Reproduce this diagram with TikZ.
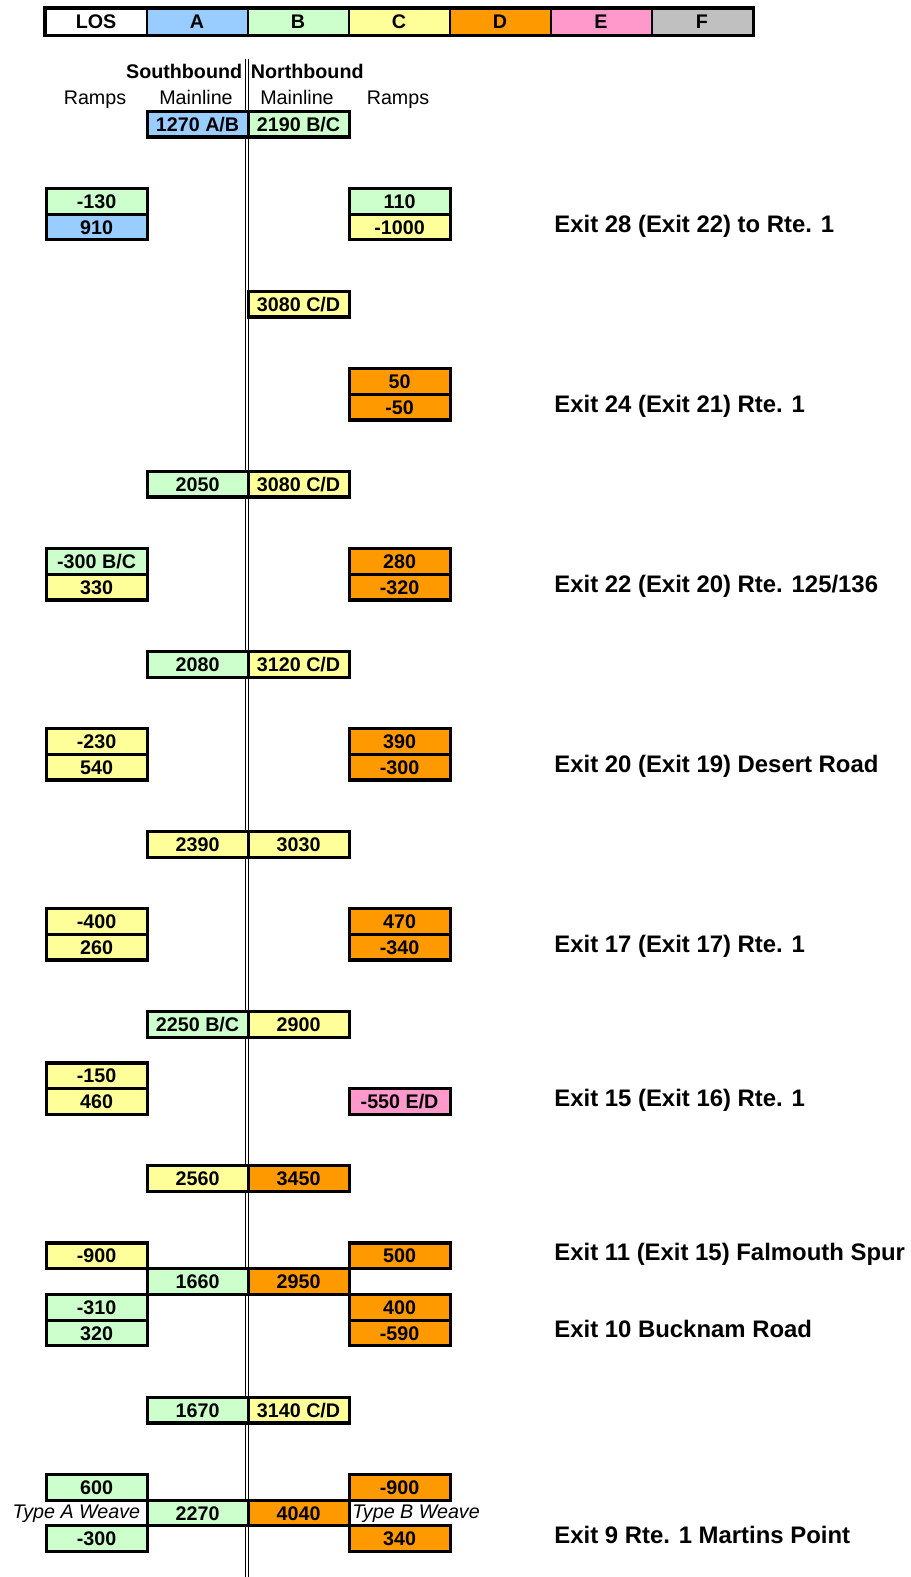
\documentclass[tikz,border=0pt]{standalone}
\usepackage{fontspec}
\setmainfont{Liberation Sans}
\definecolor{losA}{HTML}{99CCFF}
\definecolor{losB}{HTML}{CCFFCC}
\definecolor{losC}{HTML}{FFFF99}
\definecolor{losD}{HTML}{FF9900}
\definecolor{losE}{HTML}{FF99CC}
\definecolor{losF}{HTML}{C0C0C0}
\newcommand\tcell[5]{\node[cellsty,fill=#3] (#5) at ({44.5+101*#1},{6.8+25.72*#2}) {#4};}
\newcommand\lcell[4]{\node[legsty,fill=#2] (#4) at ({44.5+101*#1},8) {#3};}
\begin{document}
\begin{tikzpicture}[x=0.5pt,y=-0.5pt,
  cellsty/.style={draw=black,line width=1.6pt,minimum width=50.5pt,minimum height=12.86pt,
    inner sep=0pt,text height=7.1pt,text depth=0pt,font=\fontsize{9.85}{11}\selectfont\bfseries,anchor=north west},
  legsty/.style={draw=black,line width=1pt,minimum width=50.5pt,minimum height=12.86pt,
    inner sep=0pt,text height=7.1pt,text depth=0pt,font=\fontsize{9.85}{11}\selectfont\bfseries,anchor=north west},
  hdr/.style={inner sep=0pt,text height=7.1pt,text depth=0pt,font=\fontsize{9.85}{11}\selectfont},
  hdrb/.style={hdr,font=\fontsize{9.85}{11}\selectfont\bfseries},
  exitlbl/.style={inner sep=0pt,anchor=west,text height=8.6pt,text depth=0pt,font=\fontsize{11.95}{14}\selectfont\bfseries},
  weave/.style={inner sep=0pt,text height=7.1pt,text depth=0pt,font=\fontsize{9.85}{11}\selectfont\itshape}]
\useasboundingbox (0,0) rectangle (910,1577);
% centre divider
\coordinate (dlt) at (247,59.4);
\coordinate (dlb) at (247,1577);
\draw[line width=0.5pt,double=white,double distance=1.25pt] (dlt) -- (dlb);
% legend
\lcell{0}{white}{LOS}{lg0}
\lcell{1}{losA}{A}{lg1}
\lcell{2}{losB}{B}{lg2}
\lcell{3}{losC}{C}{lg3}
\lcell{4}{losD}{D}{lg4}
\lcell{5}{losE}{E}{lg5}
\lcell{6}{losF}{F}{lg6}
\draw[line width=1.6pt] (lg0.north west) rectangle (lg6.south east);
% headers
\node[hdrb,anchor=east] (hsb) at (242.5,71.5) {Southbound};
\node[hdrb,anchor=west] (hnb) at (250.5,71.5) {Northbound};
\node[hdr] (hr1) at (95,97) {Ramps};
\node[hdr] (hm1) at (196,97) {Mainline};
\node[hdr] (hm2) at (297,97) {Mainline};
\node[hdr] (hr2) at (398,97) {Ramps};
% cells
\tcell{1}{4}{losA}{1270 A/B}{m4s}
\tcell{2}{4}{losB}{2190 B/C}{m4n}
\tcell{0}{7}{losB}{-130}{r7s}
\tcell{3}{7}{losB}{110}{r7n}
\tcell{0}{8}{losA}{910}{r8s}
\tcell{3}{8}{losC}{-1000}{r8n}
\tcell{2}{11}{losC}{3080 C/D}{m11n}
\tcell{3}{14}{losD}{50}{r14n}
\tcell{3}{15}{losD}{-50}{r15n}
\tcell{1}{18}{losB}{2050}{m18s}
\tcell{2}{18}{losC}{3080 C/D}{m18n}
\tcell{0}{21}{losB}{-300 B/C}{r21s}
\tcell{3}{21}{losD}{280}{r21n}
\tcell{0}{22}{losC}{330}{r22s}
\tcell{3}{22}{losD}{-320}{r22n}
\tcell{1}{25}{losB}{2080}{m25s}
\tcell{2}{25}{losC}{3120 C/D}{m25n}
\tcell{0}{28}{losC}{-230}{r28s}
\tcell{3}{28}{losD}{390}{r28n}
\tcell{0}{29}{losC}{540}{r29s}
\tcell{3}{29}{losD}{-300}{r29n}
\tcell{1}{32}{losC}{2390}{m32s}
\tcell{2}{32}{losC}{3030}{m32n}
\tcell{0}{35}{losC}{-400}{r35s}
\tcell{3}{35}{losD}{470}{r35n}
\tcell{0}{36}{losC}{260}{r36s}
\tcell{3}{36}{losD}{-340}{r36n}
\tcell{1}{39}{losB}{2250 B/C}{m39s}
\tcell{2}{39}{losC}{2900}{m39n}
\tcell{0}{41}{losC}{-150}{r41s}
\tcell{0}{42}{losC}{460}{r42s}
\tcell{3}{42}{losE}{-550 E/D}{r42n}
\tcell{1}{45}{losC}{2560}{m45s}
\tcell{2}{45}{losD}{3450}{m45n}
\tcell{0}{48}{losC}{-900}{r48s}
\tcell{3}{48}{losD}{500}{r48n}
\tcell{1}{49}{losB}{1660}{m49s}
\tcell{2}{49}{losD}{2950}{m49n}
\tcell{0}{50}{losB}{-310}{r50s}
\tcell{3}{50}{losD}{400}{r50n}
\tcell{0}{51}{losB}{320}{r51s}
\tcell{3}{51}{losD}{-590}{r51n}
\tcell{1}{54}{losB}{1670}{m54s}
\tcell{2}{54}{losC}{3140 C/D}{m54n}
\tcell{0}{57}{losB}{600}{r57s}
\tcell{3}{57}{losD}{-900}{r57n}
\tcell{1}{58}{losB}{2270}{m58s}
\tcell{2}{58}{losD}{4040}{m58n}
\tcell{0}{59}{losB}{-300}{r59s}
\tcell{3}{59}{losD}{340}{r59n}
% weave labels
\node[weave,anchor=east] (wa) at (140.5,1511.5) {Type A Weave};
\node[weave,anchor=west] (wb) at (352,1511.5) {Type B Weave};
% exit labels
\node[exitlbl] (e28) at (554,223.5) {Exit 28 (Exit 22) to Rte. 1};
\node[exitlbl] (e24) at (554,403.5) {Exit 24 (Exit 21) Rte. 1};
\node[exitlbl] (e22) at (554,583.5) {Exit 22 (Exit 20) Rte. 125/136};
\node[exitlbl] (e20) at (554,763.5) {Exit 20 (Exit 19) Desert Road};
\node[exitlbl] (e17) at (554,943.5) {Exit 17 (Exit 17) Rte. 1};
\node[exitlbl] (e15) at (554,1097.5) {Exit 15 (Exit 16) Rte. 1};
\node[exitlbl] (e11) at (554,1251.5) {Exit 11 (Exit 15) Falmouth Spur};
\node[exitlbl] (e10) at (554,1329) {Exit 10 Bucknam Road};
\node[exitlbl] (e9) at (554,1534.5) {Exit 9 Rte. 1 Martins Point};
\end{tikzpicture}
\end{document}
